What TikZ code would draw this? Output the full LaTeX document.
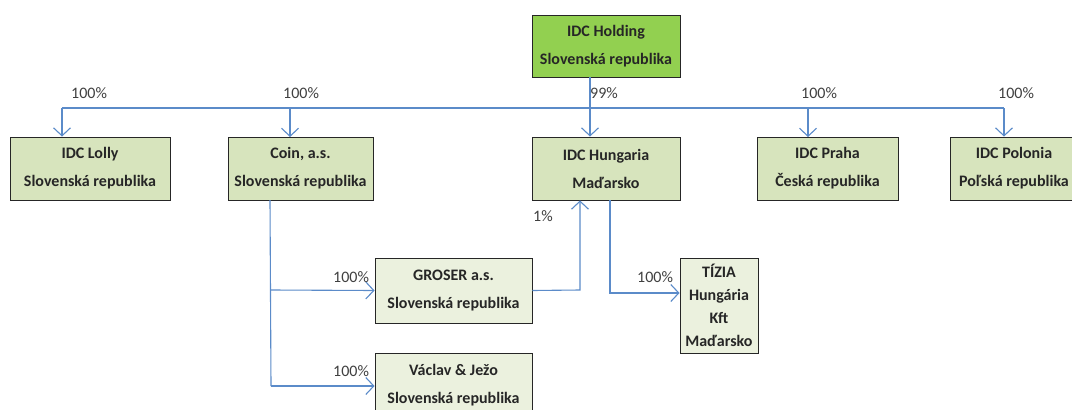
\documentclass[tikz,border=0pt]{standalone}
\usepackage{fontspec}
\setmainfont{Carlito}
\usetikzlibrary{arrows.meta,shadows}
\definecolor{holdgreen}{HTML}{92D050}
\definecolor{boxgreen}{HTML}{D7E4BD}
\definecolor{palegreen}{HTML}{EBF1DE}
\definecolor{linkblue}{HTML}{5B8BC9}
\definecolor{txt}{HTML}{262626}
\definecolor{pct}{HTML}{404040}
\tikzset{
  box/.style={draw=black!85, line width=0.9pt, fill=boxgreen, text=txt, align=center, inner sep=0pt,
    font=\bfseries\fontsize{16}{28}\selectfont,
    drop shadow={shadow xshift=1.2pt, shadow yshift=-1.2pt, opacity=0.35}},
  link/.style={draw=linkblue, line width=1.1pt},
  arr/.style={link, -{Straight Barb[length=8pt,width=17pt,line width=1.1pt]}},
  pctlab/.style={text=pct, font=\fontsize{16}{18}\selectfont, inner sep=0pt}
}
\begin{document}
\begin{tikzpicture}[x=1pt,y=-1pt]
\useasboundingbox[fill=white] (0,0) rectangle (1072,410);
% boxes
\node[box, fill=holdgreen, minimum width=148, minimum height=62] (hold) at (606,46) {IDC Holding\\Slovenská republika};
\node[box, minimum width=160, minimum height=63] (lolly) at (90,168.5) {IDC Lolly\\Slovenská republika};
\node[box, minimum width=145, minimum height=63] (coin) at (300.5,168.5) {Coin, a.s.\\Slovenská republika};
\node[box, minimum width=148, minimum height=63] (hung) at (606,168.5) {IDC Hungaria\\Maďarsko};
\node[box, minimum width=141, minimum height=63] (praha) at (827.5,168.5) {IDC Praha\\Česká republika};
\node[box, minimum width=128, minimum height=63] (polo) at (1014,168.5) {IDC Polonia\\Poľská republika};
\node[box, fill=palegreen, minimum width=157, minimum height=65] (groser) at (453.5,290.5) {GROSER a.s.\\Slovenská republika};
\node[box, fill=palegreen, minimum width=157, minimum height=64] (vaclav) at (453.5,385) {Václav \& Ježo\\Slovenská republika};
\node[box, fill=palegreen, minimum width=78, minimum height=95, font=\bfseries\fontsize{16}{23}\selectfont] (tizia) at (719,305.5) {TÍZIA\\Hungária\\Kft\\Maďarsko};
% bus
\coordinate (busL) at (62,108);
\coordinate (busR) at (1004,108);
\coordinate (holdout) at (590,77);
\draw[link] (busL) -- (busR);
\draw[arr] (busL) -- (busL |- lolly.north);
\draw[arr] (290,108) -- (290,137);
\draw[arr] (holdout) -- (holdout |- hung.north);
\draw[arr] (808,108) -- (808,137);
\draw[arr] (busR) -- (busR |- polo.north);
% coin branch
\coordinate (coinout) at (270,200);
\coordinate (coinend) at (271,386);
\draw[link] (coinout) -- (coinend);
\draw[arr] (271,290) -- (groser.west);
\draw[arr] (coinend) -- (coinend -| vaclav.west);
% groser to hungaria
\coordinate (gh) at (580,290);
\draw[arr] (groser.east) -- (gh) -- (gh |- hung.south);
% hungaria to tizia
\coordinate (hout) at (610,200);
\coordinate (tbend) at (610,293);
\draw[arr] (hout) -- (tbend) -- (tbend -| tizia.west);
% labels
\node[pctlab, anchor=west] (l1) at (71,93) {100\%};
\node[pctlab, anchor=west] (l2) at (283,93) {100\%};
\node[pctlab, anchor=west] (l3) at (590,93) {99\%};
\node[pctlab, anchor=west] (l4) at (801,93) {100\%};
\node[pctlab, anchor=west] (l5) at (998,93) {100\%};
\node[pctlab, anchor=west] (l6) at (533,216) {1\%};
\node[pctlab, anchor=west] (l7) at (333,277) {100\%};
\node[pctlab, anchor=west] (l8) at (333,371) {100\%};
\node[pctlab, anchor=west] (l9) at (637,277) {100\%};
\end{tikzpicture}
\end{document}
